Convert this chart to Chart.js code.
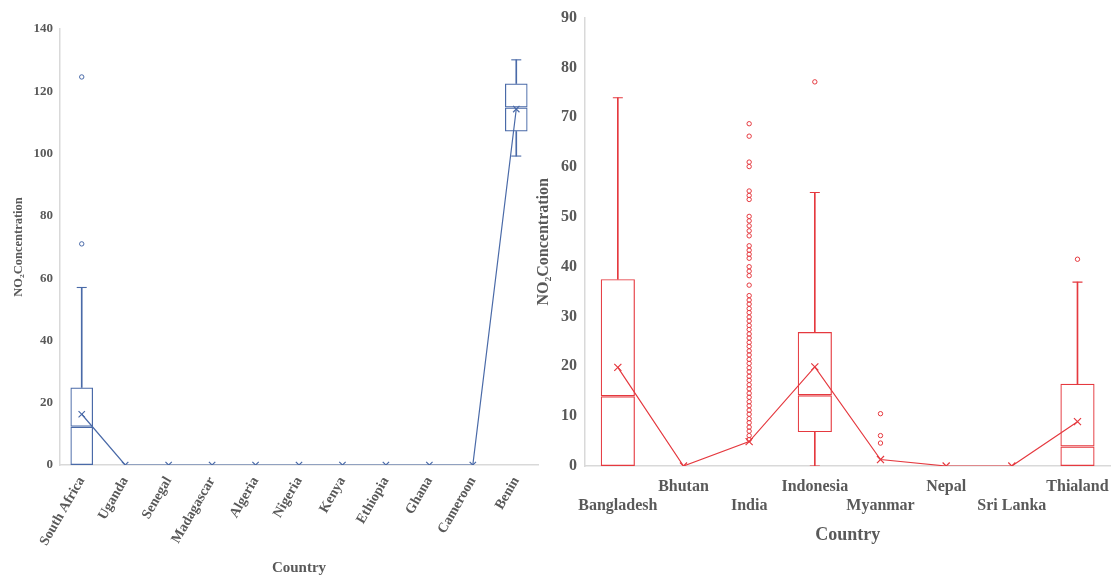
<!DOCTYPE html>
<html>
<head>
<meta charset="utf-8">
<title>NO2 Concentration by Country</title>
<script src="https://cdn.jsdelivr.net/npm/chart.js@4"></script>
<style>
  html, body { margin: 0; padding: 0; background: #fff; }
  #wrap  { position: relative; width: 1120px; height: 577px; overflow: hidden; }
  #left  { position: absolute; left: 0; top: 0; }
  #right { position: absolute; left: 530px; top: 0; }
</style>
</head>
<body>
<div id="wrap">
  <canvas id="left" width="545" height="577"></canvas>
  <canvas id="right" width="590" height="577"></canvas>
</div>
<script>
// ── Africa (left panel) ───────────────────────────────────────────
const africaCountries = ["South Africa", "Uganda", "Senegal", "Madagascar", "Algeria",
                         "Nigeria", "Kenya", "Ethiopia", "Ghana", "Cameroon", "Benin"];
const africaMin      = [0,    null, null, null, null, null, null, null, null, null, 99.2];
const africaQ1       = [0,    null, null, null, null, null, null, null, null, null, 107.1];
const africaMedian   = [12.3, null, null, null, null, null, null, null, null, null, 114.8];
const africaQ3       = [24.9, null, null, null, null, null, null, null, null, null, 122.5];
const africaMax      = [57.0, null, null, null, null, null, null, null, null, null, 130.1];
const africaMean     = [16.3, 0, 0, 0, 0, 0, 0, 0, 0, 0, 114.3];
const africaOutliers = [[71.0, 124.6], [], [], [], [], [], [], [], [], [], []];
const africaYTicks   = [0, 20, 40, 60, 80, 100, 120, 140];

// ── South Asia (right panel) ──────────────────────────────────────
const asiaCountries = ["Bangladesh", "Bhutan", "India", "Indonesia", "Myanmar", "Nepal", "Sri Lanka", "Thialand"];
const asiaMin      = [0,    null, null, 0,    null, null, null, 0];
const asiaQ1       = [0,    null, null, 6.8,  null, null, null, 0];
const asiaMedian   = [14.0, null, null, 14.2, null, null, null, 3.9];
const asiaQ3       = [37.5, null, null, 26.9, null, null, null, 16.5];
const asiaMax      = [73.9, null, null, 54.9, null, null, null, 36.9];
const asiaMean     = [19.8, 0, 4.9, 19.9, 1.3, 0, 0, 8.9];
const asiaOutliers = [
  [],
  [],
  [68.7, 66.2, 61.0, 60.1, 55.2, 54.3, 53.5, 50.1, 49.2, 48.2, 47.2, 46.2, 44.2, 43.3,
   42.5, 41.7, 40.0, 39.1, 38.2, 36.3, 34.2, 33.3, 32.5, 31.6, 30.8, 29.9, 29.1, 28.2,
   27.4, 26.5, 25.7, 24.8, 24.0, 23.1, 22.3, 21.4, 20.6, 19.7, 18.9, 18.0, 17.2, 16.3,
   15.5, 14.6, 13.8, 12.9, 12.1, 11.2, 10.4, 9.5, 8.7, 7.8, 7.0, 6.1, 5.3],
  [77.1],
  [10.5, 6.1, 4.6],
  [],
  [],
  [41.5]
];
const asiaYTicks = [0, 10, 20, 30, 40, 50, 60, 70, 80, 90];

// ── Shared styling ────────────────────────────────────────────────
const serif     = "'Liberation Serif', 'Times New Roman', serif";
const textColor = "#595959";
const axisColor = "#d9d9d9";
const blue      = "#4a6aa8";
const red       = "#e5393f";

function boxDatasets(cats, min, q1, med, q3, max, mean, outliers, color, markR) {
  const boxStyle = {
    type: "bar",
    backgroundColor: "rgba(0,0,0,0)",
    borderColor: color,
    borderWidth: 1.2,
    borderSkipped: false,
    grouped: false,
    categoryPercentage: 1,
    barPercentage: 0.52,
    clip: 0,
  };
  const whiskerStyle = {
    type: "bar",
    backgroundColor: color,
    borderWidth: 0,
    grouped: false,
    barThickness: 1,
    clip: 0,
  };

  const caps = [];
  cats.forEach((c, i) => {
    if (max[i] != null && max[i] > q3[i]) caps.push({ x: c, y: max[i] });
    if (min[i] != null && min[i] < q1[i]) caps.push({ x: c, y: min[i] });
  });

  const outPts = [];
  cats.forEach((c, i) => outliers[i].forEach(v => outPts.push({ x: c, y: v })));

  return [
    { ...boxStyle, data: q1.map((v, i) => v == null ? null : [v, med[i]]) },
    { ...boxStyle, data: q3.map((v, i) => v == null ? null : [med[i], v]) },
    { ...whiskerStyle, data: q3.map((v, i) => v == null || max[i] <= v ? null : [v, max[i]]) },
    { ...whiskerStyle, data: q1.map((v, i) => v == null || min[i] >= v ? null : [min[i], v]) },
    {
      type: "line", data: caps, showLine: false,
      pointStyle: "line", pointRadius: 5, pointBorderWidth: 1.1,
      borderColor: color, clip: 0,
    },
    {
      type: "line", data: mean, tension: 0,
      borderColor: color, borderWidth: 1.2,
      pointStyle: "crossRot", pointRadius: markR, pointBorderWidth: 1.2,
      pointBorderColor: color, clip: 0,
    },
    {
      type: "line", data: outPts, showLine: false,
      pointStyle: "circle", pointRadius: 2.2, pointBorderWidth: 1,
      pointBorderColor: color, pointBackgroundColor: "rgba(0,0,0,0)", clip: 0,
    },
  ];
}

function makeChart(id, cats, datasets, yTicks, cfg) {
  return new Chart(document.getElementById(id), {
    type: "bar",
    data: { labels: cats, datasets },
    options: {
      responsive: false,
      animation: false,
      events: [],
      layout: { padding: cfg.padding },
      plugins: { legend: { display: false }, tooltip: { enabled: false } },
      scales: {
        x: {
          offset: true,
          grid: { display: false, drawTicks: false },
          border: { display: true, color: axisColor, width: 1.5 },
          ticks: {
            autoSkip: false,
            minRotation: cfg.xRotation,
            maxRotation: cfg.xRotation,
            padding: cfg.xTickPad,
            color: textColor,
            font: { family: serif, size: cfg.xTickSize, weight: "bold" },
            callback: cfg.xCallback,
          },
          title: {
            display: true, text: "Country", color: textColor,
            font: { family: serif, size: cfg.xTitleSize, weight: "bold" },
            padding: { top: 0, bottom: cfg.xTitlePad },
          },
          afterFit: (s) => { s.height = cfg.xHeight; },
        },
        y: {
          min: yTicks[0],
          max: yTicks[yTicks.length - 1],
          grid: { display: false, drawTicks: false },
          border: { display: true, color: axisColor, width: 1.5 },
          ticks: {
            stepSize: yTicks[1] - yTicks[0],
            padding: cfg.yTickPad,
            color: textColor,
            font: { family: serif, size: cfg.yTickSize, weight: "bold" },
          },
          title: {
            display: true, text: "NO\u2082Concentration", color: textColor,
            font: { family: serif, size: cfg.yTitleSize, weight: "bold" },
            padding: { top: cfg.yTitlePad, bottom: 0 },
          },
          afterFit: (s) => { s.width = cfg.yWidth; },
        },
      },
    },
  });
}

makeChart("left", africaCountries,
  boxDatasets(africaCountries, africaMin, africaQ1, africaMedian, africaQ3, africaMax,
              africaMean, africaOutliers, blue, 4.5),
  africaYTicks,
  {
    padding: { left: 0, top: 29, right: 7, bottom: 0 },
    xRotation: 60, xTickPad: 9, xTickSize: 14, xTitleSize: 15, xTitlePad: 0, xHeight: 112,
    xCallback: (v, i) => africaCountries[i],
    yTickPad: 7, yTickSize: 13, yTitleSize: 12.5, yTitlePad: 11, yWidth: 60,
  });

makeChart("right", asiaCountries,
  boxDatasets(asiaCountries, asiaMin, asiaQ1, asiaMedian, asiaQ3, asiaMax,
              asiaMean, asiaOutliers, red, 5),
  asiaYTicks,
  {
    padding: { left: 0, top: 16, right: 0, bottom: 0 },
    xRotation: 0, xTickPad: 11, xTickSize: 16, xTitleSize: 18, xTitlePad: 31, xHeight: 111,
    xCallback: (v, i) => (i % 2 ? asiaCountries[i] : ["", asiaCountries[i]]),
    yTickPad: 8, yTickSize: 16, yTitleSize: 16, yTitlePad: 4, yWidth: 55,
  });
</script>
</body>
</html>
